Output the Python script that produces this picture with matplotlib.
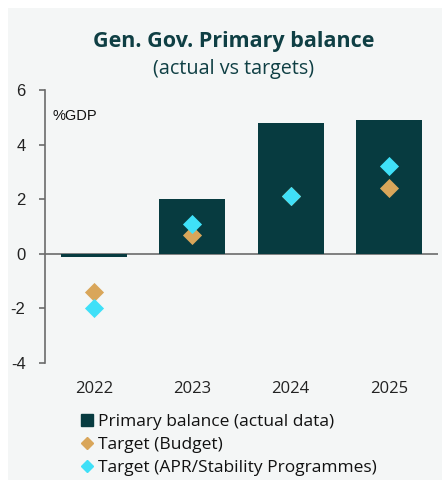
import matplotlib.pyplot as plt
from matplotlib.patches import Rectangle
from matplotlib.lines import Line2D
import numpy as np

plt.rcParams['font.family'] = ['Liberation Sans', 'DejaVu Sans']

years = ['2022', '2023', '2024', '2025']
actual = [-0.1, 2.0, 4.8, 4.9]
target_budget = [-1.4, 0.7, 2.1, 2.4]
target_apr = [-2.0, 1.1, 2.1, 3.2]

navy = '#073B40'
gold = '#D9A65A'
cyan = '#3FE0F8'
bg = '#F4F6F6'
axis_col = '#6b6b6b'
label_font = ['Open Sans', 'DejaVu Sans']

fig = plt.figure(figsize=(4.42, 4.8), dpi=100)
fig.patches.append(Rectangle((8/442, 0), 1, 1 - 8/480, transform=fig.transFigure,
                             facecolor=bg, edgecolor='none', zorder=-10))

ax = fig.add_axes([45/442, 1 - 363/480, 393/442, 273/480])
ax.set_facecolor('none')
ax.set_zorder(2)

x = np.arange(len(years))
ax.bar(x, actual, width=0.67, color=navy, zorder=2)
ax.scatter(x, target_budget, marker='D', s=95, color=gold, zorder=3, linewidths=0)
ax.scatter(x, target_apr, marker='D', s=95, color=cyan, zorder=4, linewidths=0)

ax.set_xlim(-0.5, 3.5)
ax.set_ylim(-4, 6)
ax.set_yticks([-4, -2, 0, 2, 4, 6])
ax.set_yticklabels(['-4', '-2', '0', '2', '4', '6'])
ax.set_xticks(x)
ax.set_xticklabels(years, family=label_font)
ax.tick_params(axis='x', length=0, pad=13, labelsize=12, labelcolor='#222222')
ax.tick_params(axis='y', length=4, width=1.2, color=axis_col, pad=10,
               labelsize=12, labelcolor='#222222')
for s in ['top', 'right', 'bottom']:
    ax.spines[s].set_visible(False)
ax.spines['left'].set_color(axis_col)
ax.spines['left'].set_linewidth(1.2)
ax.axhline(0, color=axis_col, lw=1.2, zorder=1)

ax.text(0.02, 0.905, '%GDP', transform=ax.transAxes, fontsize=10.5,
        color='#111111', ha='left', va='center')

fig.text(234/442, 1 - 42/480, 'Gen. Gov. Primary balance', ha='center', va='center',
         fontsize=15.5, fontweight='bold', color='#0F3F44', family=label_font)
fig.text(234/442, 1 - 69/480, '(actual vs targets)', ha='center', va='center',
         fontsize=14.2, color='#0F3F44', family=label_font)

handles = [
    Line2D([], [], marker='s', ls='none', color=navy, markersize=8),
    Line2D([], [], marker='D', ls='none', color=gold, markersize=6),
    Line2D([], [], marker='D', ls='none', color=cyan, markersize=6),
]
labels = ['Primary balance (actual data)', 'Target (Budget)',
          'Target (APR/Stability Programmes)']
fig.legend(handles, labels, loc='upper left', bbox_to_anchor=(81/442, 1 - 414/480),
           frameon=False, handlelength=0.7, handletextpad=0.3,
           labelspacing=0.38, borderpad=0, borderaxespad=0, labelcolor='#111111',
           prop={'family': label_font, 'size': 12.5})

fig.savefig('out.png', dpi=100)
